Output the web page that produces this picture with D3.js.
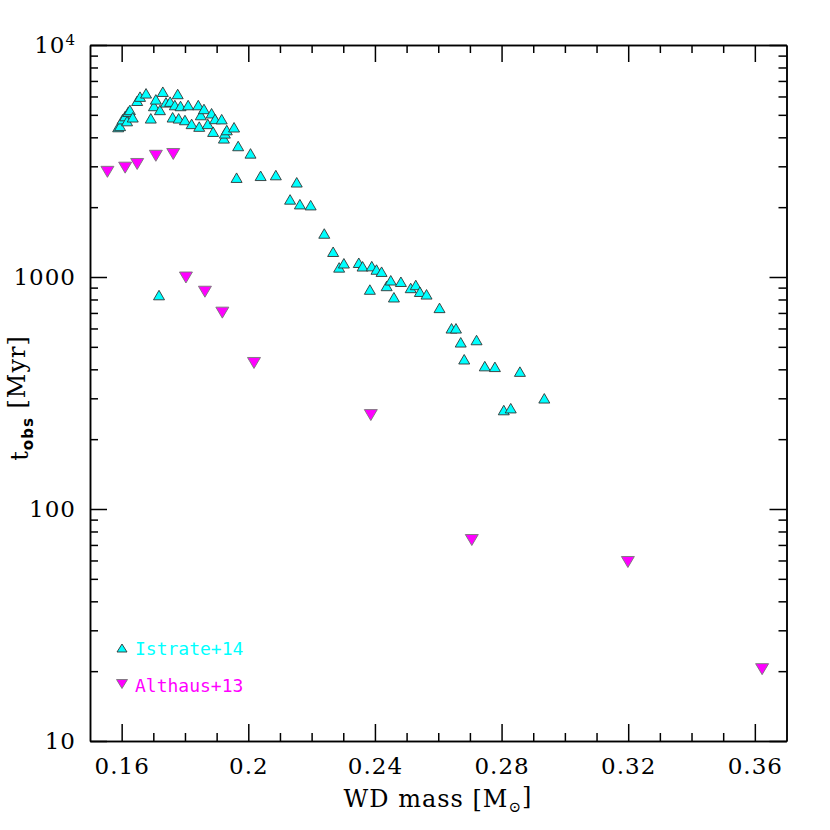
<!DOCTYPE html>
<html>
<head>
<meta charset="utf-8">
<script src="https://cdn.jsdelivr.net/npm/d3@7"></script>
<style>
  body { margin: 0; background: #fff; }
  .axis path, .axis line { stroke: #000; stroke-width: 1.5; }
  .axis text { font-family: "DejaVu Serif", serif; font-size: 23px; fill: #000; letter-spacing: 1px; }
</style>
</head>
<body>
<script>
// Istrate+14 tracks (mass in Msun, age in Myr)
var istrateMass = [0.1589, 0.1595, 0.1603, 0.1611, 0.1617, 0.1621, 0.1626, 0.1635, 0.1649, 0.1658,
  0.1677, 0.1692, 0.1702, 0.1708, 0.1721, 0.1730, 0.1740, 0.1753, 0.1761, 0.1768,
  0.1777, 0.1780, 0.1786, 0.1800, 0.1810, 0.1821, 0.1842, 0.1845, 0.1850, 0.1860,
  0.1872, 0.1884, 0.1889, 0.1895, 0.1916, 0.1923, 0.1926, 0.1932, 0.1955, 0.1968,
  0.2007, 0.1963, 0.2039, 0.2087, 0.2153, 0.2132, 0.2163, 0.2197, 0.2240, 0.2268,
  0.2287, 0.2302, 0.2349, 0.2361, 0.2390, 0.2405, 0.2421, 0.2437, 0.2450, 0.2482,
  0.2384, 0.2513, 0.2529, 0.2542, 0.2563, 0.2460, 0.2604, 0.2642, 0.2656, 0.2671,
  0.2721, 0.2682, 0.2747, 0.2779, 0.2858, 0.2935, 0.2807, 0.2829, 0.1718];
var istrateAge = [4430, 4480, 4790, 4940, 4700, 5160, 5250, 4880, 5750, 5990,
  6190, 4830, 5460, 5830, 5250, 6290, 5660, 5700, 4880, 5510,
  6150, 4830, 5460, 4750, 5510, 4570, 5510, 4450, 4990, 5300,
  4570, 5080, 4230, 4800, 4790, 3960, 4160, 4300, 4420, 3670,
  3410, 2680, 2730, 2750, 2560, 2160, 2060, 2040, 1540, 1285,
  1100, 1146, 1152, 1112, 1114, 1077, 1054, 915, 968, 954,
  883, 897, 924, 864, 842, 818, 736, 601, 601, 523,
  535, 442, 413, 410, 391, 300, 267, 272, 836];

// Althaus+13 tracks
var althausMass = [0.1555, 0.1611, 0.1649, 0.1708, 0.1763, 0.1803, 0.1863, 0.1918, 0.2018,
  0.2387, 0.2706, 0.3199, 0.3623];
var althausAge = [2840, 2960, 3070, 3330, 3390, 995, 864, 702, 426, 254, 73.5, 59.1, 20.4];

var xMajor = [0.16, 0.2, 0.24, 0.28, 0.32, 0.36];
var xMinor = [0.17, 0.18, 0.19, 0.21, 0.22, 0.23, 0.25, 0.26, 0.27, 0.29, 0.30, 0.31, 0.33, 0.34, 0.35];
var yMajor = [10, 100, 1000, 10000];
var yMinor = [20, 30, 40, 50, 60, 70, 80, 90, 200, 300, 400, 500, 600, 700, 800, 900,
  2000, 3000, 4000, 5000, 6000, 7000, 8000, 9000];

var W = 830, H = 830;
var padL = 90, padR = 786.5, padT = 45, padB = 741;

var svg = d3.select("body").append("svg")
    .attr("width", W)
    .attr("height", H);

var x = d3.scaleLinear().domain([0.15, 0.37]).range([padL, padR]);
var y = d3.scaleLog().domain([10, 10000]).range([padB, padT]);

// axes, ticks all pointing inward
function addAxis(axis, tr, labels) {
  var g = svg.append("g").attr("class", "axis").attr("transform", tr).call(axis);
  if (!labels) g.selectAll("text").remove();
  return g;
}

addAxis(d3.axisBottom(x).tickValues(xMajor).tickSizeInner(-17).tickSizeOuter(0).tickPadding(16.5)
  .tickFormat(function(d) { return String(+d.toFixed(2)); }), "translate(0," + padB + ")", true);
addAxis(d3.axisBottom(x).tickValues(xMinor).tickSizeInner(-8).tickSizeOuter(0), "translate(0," + padB + ")", false);
addAxis(d3.axisTop(x).tickValues(xMajor).tickSizeInner(-17).tickSizeOuter(0), "translate(0," + padT + ")", false);
addAxis(d3.axisTop(x).tickValues(xMinor).tickSizeInner(-8).tickSizeOuter(0), "translate(0," + padT + ")", false);

var gy = addAxis(d3.axisLeft(y).tickValues(yMajor).tickSizeInner(-17).tickSizeOuter(0).tickPadding(14)
  .tickFormat(function(d) { return d === 10000 ? "10" : String(d); }), "translate(" + padL + ",0)", true);
gy.selectAll(".tick text").filter(function(d) { return d === 10000; })
  .append("tspan").attr("dy", "-0.5em").style("font-size", "15px").text("4");
addAxis(d3.axisLeft(y).tickValues(yMinor).tickSizeInner(-8).tickSizeOuter(0), "translate(" + padL + ",0)", false);
addAxis(d3.axisRight(y).tickValues(yMajor).tickSizeInner(-17).tickSizeOuter(0), "translate(" + padR + ",0)", false);
addAxis(d3.axisRight(y).tickValues(yMinor).tickSizeInner(-8).tickSizeOuter(0), "translate(" + padR + ",0)", false);

// triangle marker path
function tri(cx, cy, w, h, up) {
  var s = up ? 1 : -1;
  return "M" + (cx - w / 2) + "," + (cy + s * h / 2) +
    "L" + (cx + w / 2) + "," + (cy + s * h / 2) +
    "L" + cx + "," + (cy - s * h / 2) + "Z";
}

svg.append("g").selectAll("path")
  .data(d3.range(althausMass.length))
  .enter().append("path")
    .attr("d", function(i) { return tri(x(althausMass[i]), y(althausAge[i]), 13, 11, false); })
    .attr("fill", "#ff00ff")
    .attr("stroke", "#777")
    .attr("stroke-width", 0.9);

svg.append("g").selectAll("path")
  .data(d3.range(istrateMass.length))
  .enter().append("path")
    .attr("d", function(i) { return tri(x(istrateMass[i]), y(istrateAge[i]), 11, 9.5, true); })
    .attr("fill", "#00ffff")
    .attr("stroke", "#333")
    .attr("stroke-width", 0.9);

// legend
svg.append("path").attr("d", tri(122, 648, 10, 8, true))
  .attr("fill", "#00ffff").attr("stroke", "#333").attr("stroke-width", 0.9);
svg.append("text").attr("x", 135).attr("y", 655)
  .style("font-family", "'DejaVu Sans Mono', monospace").style("font-size", "18px")
  .attr("fill", "#00ffff").text("Istrate+14");
svg.append("path").attr("d", tri(122, 684, 11, 9, false))
  .attr("fill", "#ff00ff").attr("stroke", "#777").attr("stroke-width", 0.9);
svg.append("text").attr("x", 135).attr("y", 692)
  .style("font-family", "'DejaVu Sans Mono', monospace").style("font-size", "18px")
  .attr("fill", "#ff00ff").text("Althaus+13");

// axis titles
var xt = svg.append("text")
  .attr("x", 438).attr("y", 807)
  .attr("text-anchor", "middle")
  .style("font-family", "'DejaVu Serif', serif").style("font-size", "24px")
  .style("letter-spacing", "1px")
  .text("WD mass [M");
xt.append("tspan").attr("dy", "0.3em").style("font-size", "15px").text("\u2299");
xt.append("tspan").attr("dy", "-0.3em").text("]");

var yt = svg.append("text")
  .attr("transform", "translate(28,398) rotate(-90)")
  .attr("text-anchor", "middle")
  .style("font-family", "'DejaVu Serif', serif").style("font-size", "24px")
  .style("letter-spacing", "1px")
  .text("t");
yt.append("tspan").attr("dy", "0.35em")
  .style("font-family", "'DejaVu Sans', sans-serif").style("font-size", "15px").style("font-weight", "bold")
  .text("obs");
yt.append("tspan").attr("dy", "-0.35em").text(" [Myr]");
</script>
</body>
</html>
